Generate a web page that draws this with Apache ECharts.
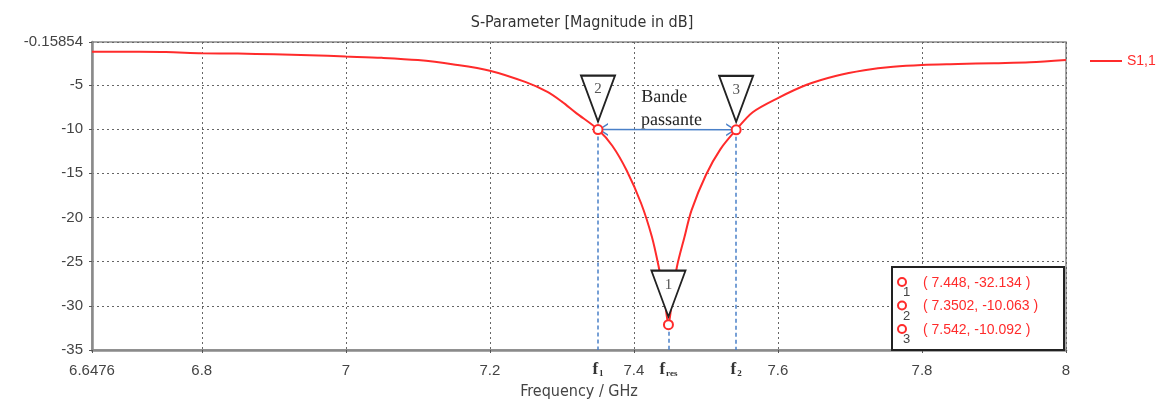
<!DOCTYPE html>
<html>
<head>
<meta charset="utf-8">
<script src="https://cdn.jsdelivr.net/npm/echarts@6/dist/echarts.min.js"></script>
<style>
  html, body { margin: 0; padding: 0; background: #fff; }
  #chart { width: 1160px; height: 401px; }
</style>
</head>
<body>
<div id="chart"></div>
<script>
// S11 curve
const freq = [6.6476, 6.7, 6.75, 6.8, 6.85, 6.9, 6.95, 7.0, 7.05, 7.1, 7.15, 7.2, 7.25, 7.28, 7.3, 7.32,
  7.3502, 7.37, 7.39, 7.41, 7.425, 7.435, 7.442, 7.448, 7.454, 7.46, 7.47, 7.48, 7.5, 7.52,
  7.542, 7.565, 7.6, 7.64, 7.68, 7.72, 7.76, 7.8, 7.85, 7.9, 7.95, 8.0];
const s11 = [-1.25, -1.27, -1.3, -1.42, -1.47, -1.55, -1.65, -1.8, -1.95, -2.2, -2.7, -3.4, -4.7, -5.8, -6.9, -8.2,
  -10.063, -11.9, -14.7, -18.4, -22.2, -25.8, -28.8, -32.134, -28.6, -25.5, -22.3, -19.2, -15.2, -12.3,
  -10.092, -8.1, -6.5, -5.0, -4.0, -3.35, -2.95, -2.75, -2.65, -2.55, -2.45, -2.2];

// markers 1..3
const markerIds = ['1', '2', '3'];
const markerFreq = [7.448, 7.3502, 7.542];
const markerDb = [-32.134, -10.063, -10.092];
const markerText = ['( 7.448, -32.134 )', '( 7.3502, -10.063 )', '( 7.542, -10.092 )'];

// frequency guides under the axis: f1 -> marker 2, fres -> marker 1, f2 -> marker 3
const guideSub = ['1', 'res', '2'];
const guideMarker = [1, 0, 2];

const yMin = -35, yMax = -0.15854, yStep = 5;
const xMin = 6.6476, xMax = 8;

const red = '#ff2b2b';
const blue = '#4a80c8';
const fmt = (v) => String(+v.toFixed(5));

var chart = echarts.init(document.getElementById('chart'));

const triPath = 'path://M0,0 L34,0 L17,46 Z';
const ringPts = markerFreq.map((f, i) => ({
  coord: [f, markerDb[i]],
  symbol: 'circle',
  symbolSize: 9,
  itemStyle: { color: '#fff', borderColor: red, borderWidth: 2 },
  label: { show: false }
}));
const triPts = markerFreq.map((f, i) => ({
  coord: [f, markerDb[i]],
  symbol: triPath,
  symbolSize: [34, 46],
  symbolOffset: [0, -31],
  itemStyle: { color: '#fff', borderColor: '#222', borderWidth: 2 },
  label: {
    show: true, position: 'inside', offset: [0, -9], formatter: markerIds[i],
    color: '#555', fontSize: 15, fontFamily: 'Liberation Serif'
  }
}));

const guideLines = guideSub.map((s, i) => {
  const m = guideMarker[i];
  return [
    { coord: [markerFreq[m], markerDb[m]] },
    {
      coord: [markerFreq[m], yMin],
      label: {
        show: true, position: 'end', distance: 11,
        formatter: '{f|f}{s|' + s + '}',
        rich: {
          f: { fontFamily: 'Liberation Serif', fontSize: 17, fontWeight: 'bold', color: '#333' },
          s: { fontFamily: 'Liberation Serif', fontSize: 9, fontWeight: 'bold', color: '#333', padding: [8, 0, 0, 1] }
        }
      }
    }
  ];
});

// open arrow head, tip in the middle of its box so it sits on the end point
const chevron = 'path://M0,0 L0.01,0 L0,0.01 Z M24,24 L23.99,24 L24,23.99 Z ' +
  'M12,12 L18.5,22 L16.8,22 L12,14.6 L7.2,22 L5.5,22 Z';

option = {
  animation: false,
  title: {
    text: 'S-Parameter [Magnitude in dB]',
    left: 577,
    textAlign: 'center',
    top: 10,
    textStyle: { fontSize: 16, fontWeight: 'normal', color: '#333', fontFamily: 'DejaVu Sans Condensed' }
  },
  legend: {
    data: [{ name: 'S1,1', icon: 'rect' }],
    left: 1085,
    top: 49,
    itemWidth: 32,
    itemHeight: 2,
    itemGap: 6,
    textStyle: { color: red, fontSize: 14, fontFamily: 'Liberation Sans' }
  },
  grid: {
    left: 92,
    right: 94,
    top: 42,
    bottom: 51,
    outerBoundsMode: 'none',
    show: true,
    borderColor: '#8a8a8a',
    borderWidth: 1.5
  },
  xAxis: {
    type: 'value',
    min: xMin,
    max: xMax,
    splitNumber: 7,
    minInterval: 0.2,
    maxInterval: 0.2,
    name: 'Frequency / GHz',
    nameLocation: 'middle',
    nameGap: 34,
    nameTextStyle: { fontSize: 16, color: '#444', fontFamily: 'DejaVu Sans Condensed' },
    axisLine: { lineStyle: { color: '#8a8a8a', width: 2.5 } },
    axisTick: { show: true, length: 3, lineStyle: { color: '#555' } },
    axisLabel: {
      formatter: fmt, showMinLabel: true, showMaxLabel: true, margin: 13,
      fontSize: 15, color: '#444', fontFamily: 'Liberation Sans'
    },
    splitLine: { show: true, lineStyle: { color: '#666', type: [2, 3], width: 1 } }
  },
  yAxis: {
    type: 'value',
    min: yMin,
    max: yMax,
    interval: yStep,
    axisLine: { show: true, lineStyle: { color: '#8a8a8a', width: 2.5 } },
    axisTick: { show: true, length: 3, lineStyle: { color: '#555' } },
    axisLabel: {
      formatter: fmt, showMinLabel: true, showMaxLabel: true, margin: 9,
      fontSize: 15, color: '#444', fontFamily: 'Liberation Sans'
    },
    splitLine: { show: true, lineStyle: { color: '#666', type: [2, 3], width: 1 } }
  },
  series: [
    {
      name: 'S1,1',
      type: 'line',
      data: freq.map((f, i) => [f, s11[i]]),
      showSymbol: false,
      smooth: 0.3,
      lineStyle: { color: red, width: 2 },
      itemStyle: { color: red },
      markLine: {
        silent: true,
        symbol: ['none', 'none'],
        lineStyle: { color: blue, type: [4, 3], width: 1.5 },
        label: { show: false },
        data: guideLines
      },
      markPoint: {
        silent: true,
        data: triPts.concat(ringPts)
      },
      z: 3
    },
    {
      // band arrow between markers 2 and 3
      name: 'band',
      type: 'line',
      data: [],
      markLine: {
        silent: true,
        symbol: [chevron, chevron],
        symbolSize: 24,
        lineStyle: { color: blue, type: 'solid', width: 1.5 },
        itemStyle: { color: blue },
        label: {
          show: true, position: 'middle', distance: 1,
          align: 'left', offset: [-26, 3],
          formatter: 'Bande\npassante',
          fontFamily: 'Liberation Serif', fontSize: 18, lineHeight: 23, color: '#222'
        },
        data: [[
          { coord: [markerFreq[1], markerDb[1]] },
          { coord: [markerFreq[2], markerDb[2]] }
        ]]
      },
      z: 4
    }
  ],
  graphic: markerText.flatMap((t, i) => [
    { type: 'circle', z: 101, shape: { cx: 902, cy: 282 + 23.5 * i, r: 4 },
      style: { fill: 'none', stroke: red, lineWidth: 2 } },
    { type: 'text', z: 101, x: 903, y: 286 + 23.5 * i,
      style: { text: markerIds[i], fill: '#444', fontSize: 13, fontFamily: 'Liberation Sans' } },
    { type: 'text', z: 101, x: 923, y: 283 + 23.5 * i,
      style: { text: t, fill: red, fontSize: 14, fontFamily: 'Liberation Sans', verticalAlign: 'middle' } }
  ]).concat([
    { type: 'rect', z: 100, shape: { x: 892, y: 267, width: 172, height: 83 },
      style: { fill: '#fff', stroke: '#222', lineWidth: 2 } }
  ])
};

if (option && typeof option === 'object') {
  chart.setOption(option);
}
</script>
</body>
</html>
